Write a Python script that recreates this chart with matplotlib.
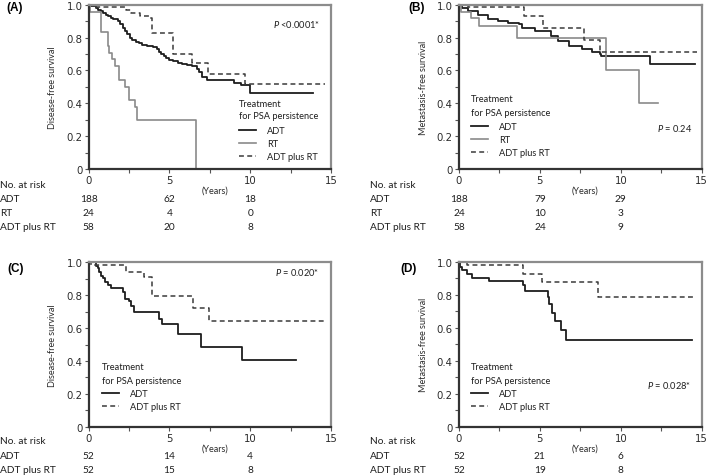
import matplotlib
matplotlib.use("Agg")
import matplotlib.pyplot as plt
from matplotlib.transforms import blended_transform_factory
from matplotlib.ticker import MultipleLocator

plt.rcParams['font.family'] = ['Lato', 'DejaVu Sans']
plt.rcParams['mathtext.fontset'] = 'custom'
plt.rcParams['mathtext.it'] = 'Lato:italic'
plt.rcParams['mathtext.rm'] = 'Lato'

# ---------------- data ----------------
# Panel A: disease-free survival
a_adt_t = [0, 0.15, 0.3, 0.45, 0.6, 0.75, 0.9, 1.05, 1.2, 1.35, 1.5, 1.65, 1.8, 1.95, 2.1, 2.25, 2.4,
           2.55, 2.7, 2.9, 3.1, 3.3, 3.6, 4.0, 4.2, 4.35, 4.5, 4.65, 4.8, 5.0, 5.2, 5.5, 5.8, 6.1,
           6.4, 6.7, 6.85, 7.0, 7.3, 9.0, 9.4, 10.0, 13.9]
a_adt_s = [1.0, 0.995, 0.99, 0.98, 0.97, 0.96, 0.95, 0.94, 0.93, 0.92, 0.915, 0.91, 0.90, 0.88, 0.86,
           0.84, 0.82, 0.80, 0.785, 0.77, 0.765, 0.755, 0.75, 0.745, 0.73, 0.715, 0.70, 0.69, 0.675,
           0.665, 0.655, 0.645, 0.64, 0.635, 0.625, 0.61, 0.59, 0.56, 0.54, 0.525, 0.51, 0.465, 0.465]
a_rt_t = [0, 0.08, 0.76, 1.18, 1.28, 1.44, 1.65, 1.9, 2.27, 2.48, 2.89, 2.97, 6.65]
a_rt_s = [1.0, 0.958, 0.833, 0.75, 0.708, 0.667, 0.625, 0.542, 0.5, 0.417, 0.375, 0.30, 0.0]
a_comb_t = [0, 0.35, 2.3, 2.6, 3.2, 3.75, 3.92, 5.24, 6.4, 7.4, 9.7, 14.6]
a_comb_s = [1.0, 0.983, 0.967, 0.95, 0.93, 0.92, 0.825, 0.70, 0.645, 0.58, 0.515, 0.515]

# Panel B: metastasis-free survival
b_adt_t = [0, 0.16, 0.58, 1.2, 1.8, 2.4, 3.05, 3.7, 3.9, 4.7, 5.4, 5.7, 6.1, 6.8, 7.6, 8.2, 8.7,
           8.8, 11.8, 14.6]
b_adt_s = [1.0, 0.98, 0.96, 0.94, 0.91, 0.90, 0.886, 0.88, 0.86, 0.84, 0.84, 0.81, 0.78, 0.75,
           0.73, 0.71, 0.70, 0.69, 0.64, 0.64]
b_rt_t = [0, 0.1, 0.77, 1.26, 3.57, 9.1, 11.1, 12.3]
b_rt_s = [1.0, 0.958, 0.917, 0.87, 0.80, 0.60, 0.40, 0.40]
b_comb_t = [0, 0.55, 4.04, 5.2, 7.75, 8.7, 14.7]
b_comb_s = [1.0, 0.983, 0.93, 0.857, 0.785, 0.714, 0.714]

# Panel C: disease-free survival (matched)
c_adt_t = [0, 0.45, 0.56, 0.66, 0.76, 0.87, 1.03, 1.18, 1.38, 1.79, 2.1, 2.27, 2.52, 2.62, 2.82,
           4.33, 4.54, 5.5, 6.95, 9.5, 12.85]
c_adt_s = [1.0, 0.98, 0.963, 0.939, 0.919, 0.903, 0.882, 0.862, 0.842, 0.842, 0.817, 0.777, 0.767,
           0.736, 0.696, 0.655, 0.623, 0.564, 0.483, 0.404, 0.404]
c_comb_t = [0, 0.14, 2.3, 3.4, 3.9, 6.45, 7.42, 14.6]
c_comb_s = [1.0, 0.981, 0.942, 0.913, 0.795, 0.722, 0.642, 0.642]

# Panel D: metastasis-free survival (matched)
d_adt_t = [0, 0.06, 0.2, 0.47, 0.78, 1.86, 3.95, 4.05, 5.48, 5.58, 5.73, 5.94, 6.31, 6.62, 14.4]
d_adt_s = [1.0, 0.968, 0.947, 0.923, 0.903, 0.883, 0.86, 0.82, 0.785, 0.745, 0.69, 0.64, 0.585,
           0.528, 0.528]
d_comb_t = [0, 0.47, 3.98, 5.11, 8.62, 14.6]
d_comb_s = [1.0, 0.98, 0.923, 0.875, 0.786, 0.786]

risk_times = [0, 5, 10]
a_risk = {"ADT": [188, 62, 18], "RT": [24, 4, 0], "ADT plus RT": [58, 20, 8]}
b_risk = {"ADT": [188, 79, 29], "RT": [24, 10, 3], "ADT plus RT": [58, 24, 9]}
c_risk = {"ADT": [52, 14, 4], "ADT plus RT": [52, 15, 8]}
d_risk = {"ADT": [52, 21, 6], "ADT plus RT": [52, 19, 8]}

ytick_vals = [0, 0.2, 0.4, 0.6, 0.8, 1.0]
ytick_labels = ["0", "0.2", "0.4", "0.6", "0.8", "1.0"]
xtick_vals = [0, 5, 10, 15]
xtick_labels = ["0", "5", "10", "15"]
legend_title = ["Treatment", "for PSA persistence"]

# ---------------- figure ----------------
W, H = 709, 477
fig = plt.figure(figsize=(W / 100, H / 100), dpi=100)


def fx(px):
    return px / W


def fy(py):
    return 1 - py / H


styles = {
    "ADT": dict(color="#1e1e1e", lw=1.3, ls="-"),
    "RT": dict(color="#8a8a8a", lw=1.2, ls="-"),
    "ADT plus RT": dict(color="#3a3a3a", lw=1.1, ls=(0, (3.2, 2.2))),
}

RISK = 7.3
LEG = 6.7
YLAB = 6.5
TICK = 7.3


def make_panel(left, right, top, bottom, series, ylabel, letter, letter_xy, ptext, pxy,
               leg_x, leg_title_y, leg_top, risk, risk_label_x, risk_y):
    ax = fig.add_axes([fx(left), fy(bottom), fx(right - left), (bottom - top) / H])
    handles = []
    for name, t, s in series:
        h, = ax.step(t, s, where="post", label=name, **styles[name])
        handles.append(h)
    ax.set_xlim(0, 15)
    ax.set_ylim(0, 1.0)
    ax.set_xticks(xtick_vals)
    ax.set_xticklabels(xtick_labels, family="DejaVu Sans")
    ax.set_yticks(ytick_vals)
    ax.set_yticklabels(ytick_labels, family="DejaVu Sans")
    ax.xaxis.set_minor_locator(MultipleLocator(2.5))
    ax.yaxis.set_minor_locator(MultipleLocator(0.1))
    ax.tick_params(which="both", direction="out", length=3, width=0.8, color="#555555",
                   labelsize=TICK, labelcolor="#2a2a2a", pad=1.5)
    for sp in ["left", "bottom"]:
        ax.spines[sp].set_color("#333333")
        ax.spines[sp].set_linewidth(1.6)
    for sp in ["top", "right"]:
        ax.spines[sp].set_color("#8c8c8c")
        ax.spines[sp].set_linewidth(1.6)
    ax.text(-0.148, 0.5, ylabel, rotation=90, ha="center", va="center",
            transform=ax.transAxes, fontsize=YLAB, color="#2a2a2a")
    ax.text(7.8, fy(bottom + 21), "(Years)", ha="center", va="center", fontsize=YLAB,
            color="#2a2a2a", transform=blended_transform_factory(ax.transData, fig.transFigure))
    fig.text(fx(letter_xy[0]), fy(letter_xy[1]), letter, ha="left", va="center",
             fontsize=8.5, fontweight="bold", family="Liberation Sans")
    fig.text(fx(pxy[0]), fy(pxy[1]), ptext, ha="left", va="center", fontsize=6.7,
             color="#1e1e1e")
    # legend title lines and legend body
    for line, yy in zip(legend_title, leg_title_y):
        fig.text(fx(leg_x), fy(yy), line, ha="left", va="center", fontsize=LEG, color="#1e1e1e")
    leg = ax.legend(handles=handles, loc="upper left",
                    bbox_to_anchor=(fx(leg_x), fy(leg_top)),
                    bbox_transform=fig.transFigure, frameon=False, fontsize=LEG,
                    handlelength=1.85, handletextpad=1.2, labelspacing=0.42,
                    borderpad=0, borderaxespad=0)
    for txt in leg.get_texts():
        txt.set_color("#1e1e1e")
    # risk table
    tr = blended_transform_factory(ax.transData, fig.transFigure)
    fig.text(fx(risk_label_x), fy(risk_y[0]), "No. at risk", ha="left", va="center",
             fontsize=RISK, color="#1e1e1e")
    for i, (name, vals) in enumerate(risk.items()):
        yy = fy(risk_y[i + 1])
        fig.text(fx(risk_label_x), yy, name, ha="left", va="center", fontsize=RISK,
                 color="#1e1e1e")
        for tt, v in zip(risk_times, vals):
            ax.text(tt, yy, str(v), ha="center", va="center", fontsize=RISK,
                    color="#1e1e1e", transform=tr, clip_on=False)
    return ax


make_panel(88.7, 331, 5.7, 170,
           [("ADT", a_adt_t, a_adt_s), ("RT", a_rt_t, a_rt_s), ("ADT plus RT", a_comb_t, a_comb_s)],
           "Disease-free survival", "(A)", (6, 8), "$\\mathit{P}$ <0.0001*", (273, 25),
           239, (105, 117), 127.5, a_risk, 0, (186, 199, 213.5, 227.5))

make_panel(459, 701.7, 5.7, 170,
           [("ADT", b_adt_t, b_adt_s), ("RT", b_rt_t, b_rt_s), ("ADT plus RT", b_comb_t, b_comb_s)],
           "Metastasis-free survival", "(B)", (408, 8), "$\\mathit{P}$ = 0.24", (657, 128),
           471, (100, 113), 123.5, b_risk, 370, (186, 199, 213.5, 227.5))

make_panel(88.7, 331, 263.3, 427.7,
           [("ADT", c_adt_t, c_adt_s), ("ADT plus RT", c_comb_t, c_comb_s)],
           "Disease-free survival", "(C)", (7, 269), "$\\mathit{P}$ = 0.020*", (275, 273),
           102, (368, 381), 390.5, c_risk, 0, (442, 456.5, 470.5))

make_panel(459, 701.7, 262.7, 427.7,
           [("ADT", d_adt_t, d_adt_s), ("ADT plus RT", d_comb_t, d_comb_s)],
           "Metastasis-free survival", "(D)", (400, 269), "$\\mathit{P}$ = 0.028*", (647, 386),
           471, (368, 381), 390.5, d_risk, 370, (442, 456.5, 470.5))

fig.savefig("out.png", dpi=100, facecolor="white")
